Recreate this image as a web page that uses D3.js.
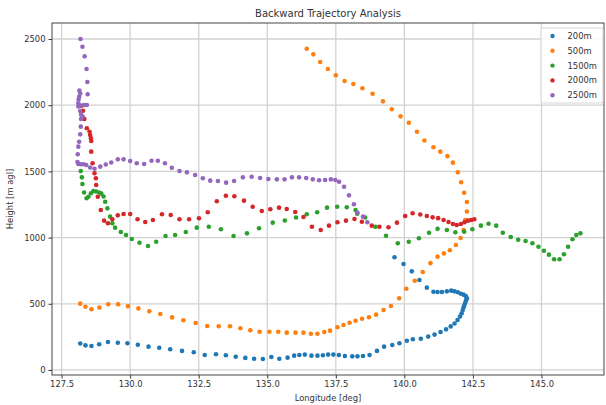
<!DOCTYPE html>
<html>
<head>
<meta charset="utf-8">
<script src="https://cdn.jsdelivr.net/npm/d3@7"></script>
<style>
  html, body { margin: 0; padding: 0; background: #fff; }
  svg { display: block; font-family: "DejaVu Sans", sans-serif; }
</style>
</head>
<body>
<svg id="chart" width="606" height="405"></svg>
<script>
// Trajectory points: [longitude (deg), height (m agl)], in order from the release point
const levels = ["200m", "500m", "1500m", "2000m", "2500m"];
const colors = ["#1f77b4", "#ff7f0e", "#2ca02c", "#d62728", "#9467bd"];

const traj200 = [
  [128.18,200],[128.37,186],[128.59,181],[128.87,194],[129.19,211],[129.55,206],[129.90,202],
  [130.28,191],[130.67,176],[131.06,168],[131.46,156],[131.89,144],[132.32,134],[132.72,113],
  [133.13,119],[133.49,111],[133.85,100],[134.20,91],[134.52,85],[134.84,83],[135.15,98],
  [135.44,85],[135.74,93],[135.98,108],[136.17,113],[136.37,116],[136.61,108],[136.83,108],
  [137.03,111],[137.22,116],[137.41,116],[137.61,113],[137.83,106],[138.10,103],[138.29,103],
  [138.49,106],[138.73,113],[139.00,144],[139.26,176],[139.56,189],[139.82,202],[140.09,221],
  [140.31,232],[140.60,236],[140.87,252],[141.10,267],[141.32,287],[141.52,307],[141.69,329],
  [141.83,351],[141.94,378],[142.03,404],[142.09,428],[142.13,453],[142.16,474],[142.19,491],
  [142.22,508],[142.25,526],[142.28,542],[142.24,559],[142.16,569],[142.06,576],[141.95,587],
  [141.83,594],[141.71,599],[141.55,594],[141.37,589],[141.21,589],[141.06,591],[140.82,622],
  [140.55,680],[140.27,745],[139.97,801],[139.64,851]
];

const traj500 = [
  [128.18,501],[128.37,478],[128.59,459],[128.88,471],[129.20,496],[129.56,496],[129.92,482],
  [130.30,465],[130.70,443],[131.10,423],[131.53,397],[131.94,376],[132.39,355],[132.81,332],
  [133.23,330],[133.64,330],[134.02,315],[134.38,300],[134.72,289],[135.08,289],[135.40,289],
  [135.71,282],[136.03,282],[136.32,282],[136.59,274],[136.83,274],[137.08,287],[137.29,297],
  [137.56,323],[137.78,340],[138.00,357],[138.22,372],[138.46,387],[138.71,398],[138.97,418],
  [139.24,453],[139.51,483],[139.81,542],[140.07,614],[140.38,674],[140.67,740],[140.95,807],
  [141.21,856],[141.44,881],[141.66,904],[141.88,944],[142.05,997],[142.16,1057],[142.22,1133],
  [142.28,1197],[142.28,1269],[142.18,1339],[142.07,1418],[141.95,1493],[141.77,1566],
  [141.57,1615],[141.31,1649],[141.06,1682],[140.73,1733],[140.46,1800],[140.16,1868],
  [139.86,1916],[139.54,1969],[139.22,2029],[138.84,2087],[138.47,2128],[138.14,2160],
  [137.82,2183],[137.50,2226],[137.21,2273],[136.93,2326],[136.68,2384],[136.44,2427]
];

const traj1500 = [
  [128.20,1503],[128.24,1455],[128.26,1405],[128.32,1341],[128.41,1297],[128.48,1309],
  [128.57,1335],[128.66,1352],[128.76,1348],[128.87,1341],[128.95,1332],[129.03,1310],
  [129.09,1271],[129.17,1221],[129.27,1158],[129.35,1108],[129.45,1075],[129.66,1042],
  [129.85,1020],[130.06,989],[130.34,961],[130.65,937],[130.95,969],[131.29,1012],[131.64,1020],
  [132.03,1042],[132.43,1075],[132.87,1082],[133.31,1063],[133.77,1012],[134.26,1032],
  [134.70,1070],[135.20,1113],[135.64,1129],[136.05,1152],[136.44,1176],[136.82,1191],
  [137.18,1226],[137.55,1233],[137.90,1229],[138.22,1208],[138.28,1181],[138.57,1152],
  [138.94,1082],[139.33,1014],[139.76,957],[140.16,969],[140.53,995],[140.90,1037],[141.21,1066],
  [141.55,1057],[141.86,1040],[142.18,1045],[142.48,1063],[142.79,1090],[143.07,1105],
  [143.35,1090],[143.59,1037],[143.88,1005],[144.15,984],[144.42,974],[144.67,957],[144.89,931],
  [145.09,901],[145.27,871],[145.46,836],[145.66,836],[145.82,874],[145.97,931],[146.13,987],
  [146.27,1020],[146.42,1032]
];

const traj2000 = [
  [128.21,1994],[128.28,1958],[128.33,1896],[128.42,1826],[128.52,1800],[128.54,1775],
  [128.57,1750],[128.58,1730],[128.58,1649],[128.63,1561],[128.70,1486],[128.75,1448],
  [128.76,1397],[128.82,1309],[128.93,1208],[129.05,1128],[129.19,1108],[129.35,1138],
  [129.55,1168],[129.76,1178],[130.00,1178],[130.27,1138],[130.55,1118],[130.83,1133],
  [131.16,1176],[131.48,1171],[131.80,1138],[132.15,1138],[132.51,1146],[132.83,1191],
  [133.16,1274],[133.49,1316],[133.80,1312],[134.15,1279],[134.47,1233],[134.80,1201],
  [135.11,1214],[135.43,1226],[135.71,1216],[136.02,1193],[136.32,1156],[136.63,1082],
  [136.95,1057],[137.25,1090],[137.56,1116],[137.87,1128],[138.18,1140],[138.45,1120],
  [138.81,1090],[139.09,1082],[139.42,1078],[139.73,1113],[140.03,1163],[140.30,1184],
  [140.58,1174],[140.82,1163],[141.03,1153],[141.23,1147],[141.43,1133],[141.61,1118],
  [141.77,1103],[141.91,1095],[142.06,1103],[142.19,1116],[142.32,1128],[142.44,1133],
  [142.55,1138]
];

const traj2500 = [
  [128.19,2500],[128.26,2442],[128.34,2369],[128.41,2273],[128.44,2175],[128.45,2083],
  [128.42,2002],[128.32,2002],[128.20,1998],[128.11,2014],[128.14,2064],[128.15,2110],
  [128.18,2088],[128.12,2043],[128.11,1990],[128.18,1956],[128.21,1930],[128.27,1915],
  [128.21,1896],[128.20,1838],[128.18,1780],[128.14,1724],[128.11,1687],[128.09,1629],
  [128.08,1571],[128.11,1556],[128.20,1554],[128.30,1554],[128.40,1548],[128.54,1530],
  [128.70,1520],[128.91,1536],[129.11,1552],[129.31,1567],[129.55,1591],[129.76,1591],
  [130.00,1579],[130.24,1561],[130.51,1556],[130.78,1581],[131.01,1581],[131.27,1561],
  [131.52,1528],[131.80,1503],[132.07,1493],[132.37,1473],[132.65,1448],[132.92,1430],
  [133.20,1428],[133.50,1415],[133.79,1428],[134.11,1455],[134.43,1460],[134.74,1450],
  [135.04,1443],[135.35,1440],[135.63,1440],[135.90,1455],[136.16,1455],[136.42,1450],
  [136.66,1440],[136.89,1433],[137.11,1435],[137.32,1440],[137.48,1435],[137.62,1422],
  [137.80,1384],[137.98,1319],[138.16,1252],[138.29,1188],[138.49,1158],[138.65,1116]
];

const xTicks = [127.5, 130.0, 132.5, 135.0, 137.5, 140.0, 142.5, 145.0];
const yTicks = [0, 500, 1000, 1500, 2000, 2500];

const series = [traj200, traj500, traj1500, traj2000, traj2500];

const svg = d3.select("#chart");
const W = 606, H = 405;
const m = { left: 52, right: 2, top: 23, bottom: 30 };
const iw = W - m.left - m.right, ih = H - m.top - m.bottom;

const x = d3.scaleLinear().domain([127.15, 147.28]).range([0, iw]);
const y = d3.scaleLinear().domain([-38, 2621]).range([ih, 0]);

const g = svg.append("g").attr("transform", `translate(${m.left},${m.top})`);

// grid
g.append("g").selectAll("line").data(xTicks).join("line")
  .attr("x1", d => x(d)).attr("x2", d => x(d)).attr("y1", 0).attr("y2", ih)
  .attr("stroke", "#d2d2d2").attr("stroke-width", 1.3);
g.append("g").selectAll("line").data(yTicks).join("line")
  .attr("y1", d => y(d)).attr("y2", d => y(d)).attr("x1", 0).attr("x2", iw)
  .attr("stroke", "#d2d2d2").attr("stroke-width", 1.3);

// scatter points
series.forEach((pts, i) => {
  g.append("g").selectAll("circle").data(pts).join("circle")
    .attr("cx", d => x(d[0])).attr("cy", d => y(d[1])).attr("r", 2.3)
    .attr("fill", colors[i]);
});

// axes
const xAxis = d3.axisBottom(x).tickValues(xTicks).tickFormat(d3.format(".1f")).tickSize(3.5).tickPadding(3);
const yAxis = d3.axisLeft(y).tickValues(yTicks).tickFormat(d3.format("d")).tickSize(3.5).tickPadding(3);

const gx = g.append("g").attr("transform", `translate(0,${ih})`).call(xAxis);
const gy = g.append("g").call(yAxis);
[gx, gy].forEach(a => {
  a.select(".domain").remove();
  a.selectAll("line").attr("stroke", "#333");
  a.selectAll("text").attr("fill", "#333").style("font-size", "8.4px").style("font-family", "DejaVu Sans, sans-serif");
});

// frame
g.append("rect").attr("x", 0).attr("y", 0).attr("width", iw).attr("height", ih)
  .attr("fill", "none").attr("stroke", "#444").attr("stroke-width", 1);

// title and axis labels
svg.append("text").attr("x", m.left + iw / 2).attr("y", 17).attr("text-anchor", "middle")
  .attr("fill", "#333").style("font-size", "10px").text("Backward Trajectory Analysis");
svg.append("text").attr("x", m.left + iw / 2).attr("y", 401).attr("text-anchor", "middle")
  .attr("fill", "#333").style("font-size", "8.4px").text("Longitude [deg]");
svg.append("text").attr("transform", `translate(13,${m.top + ih / 2}) rotate(-90)`)
  .attr("text-anchor", "middle").attr("fill", "#333").style("font-size", "8.4px").text("Height [m agl]");

// legend
const lg = svg.append("g").attr("transform", "translate(541,28)");
lg.append("rect").attr("width", 62).attr("height", 75).attr("rx", 2)
  .attr("fill", "#fff").attr("fill-opacity", 0.85).attr("stroke", "#d6d6d6");
levels.forEach((name, i) => {
  const row = lg.append("g").attr("transform", `translate(0,${8 + i * 14.8})`);
  row.append("circle").attr("cx", 11.5).attr("cy", 0).attr("r", 2.2).attr("fill", colors[i]);
  row.append("text").attr("x", 26.5).attr("y", 3).attr("fill", "#333")
    .style("font-size", "8.4px").text(name);
});
</script>
</body>
</html>
